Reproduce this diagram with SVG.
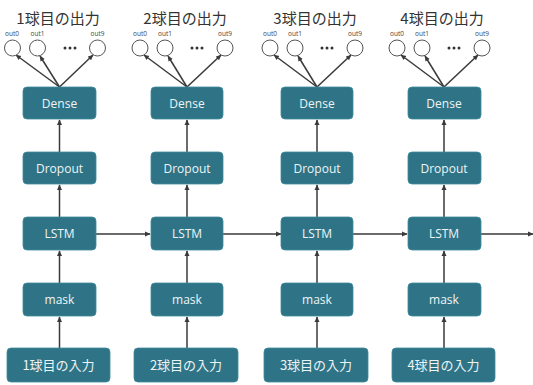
<svg xmlns="http://www.w3.org/2000/svg" width="533" height="385" viewBox="0 0 533 385">
<defs>
<marker id="ah" markerWidth="6" markerHeight="6" refX="5" refY="3" orient="auto" markerUnits="userSpaceOnUse">
<path d="M0,0.5 L5.5,3 L0,5.5 Z" fill="#3a3a3a"/>
</marker>
<style>
.box{fill:#2e7486;stroke:#3f8a9c;stroke-width:0.8}
.bt{fill:#eef4f6;font-family:"Open Sans","Noto Sans CJK JP",sans-serif;font-size:12px;text-anchor:middle}
.it{fill:#eef4f6;font-family:"Noto Sans CJK JP",sans-serif;font-size:13px;text-anchor:middle}
.tt{fill:#333;font-family:"Noto Sans CJK JP",sans-serif;font-size:15px;text-anchor:middle}
.ol{fill:#444;font-family:"Open Sans",sans-serif;font-size:6.5px;text-anchor:middle}
.c{fill:#fff;stroke:#555;stroke-width:1}
.dot{fill:#333}
.ln{stroke:#3a3a3a;stroke-width:1.5;fill:none;marker-end:url(#ah)}
</style>
</defs>
<rect width="533" height="385" fill="#fff"/>

<g id="connectors">
<path class="ln" d="M59.5,87 L16,55"/><path class="ln" d="M59.5,87 L40,56"/><path class="ln" d="M59.5,87 L93,55"/>
<path class="ln" d="M59.5,152 L59.5,120"/><path class="ln" d="M59.5,217 L59.5,185"/><path class="ln" d="M59.5,283 L59.5,251"/><path class="ln" d="M59.5,348 L59.5,317"/>
<path class="ln" d="M187,87 L144,55"/><path class="ln" d="M187,87 L168,56"/><path class="ln" d="M187,87 L221,55"/>
<path class="ln" d="M187,152 L187,120"/><path class="ln" d="M187,217 L187,185"/><path class="ln" d="M187,283 L187,251"/><path class="ln" d="M187,348 L187,317"/>
<path class="ln" d="M317,87 L274,55"/><path class="ln" d="M317,87 L298,56"/><path class="ln" d="M317,87 L351,55"/>
<path class="ln" d="M317,152 L317,120"/><path class="ln" d="M317,217 L317,185"/><path class="ln" d="M317,283 L317,251"/><path class="ln" d="M317,348 L317,317"/>
<path class="ln" d="M444,87 L401,55"/><path class="ln" d="M444,87 L425,56"/><path class="ln" d="M444,87 L478,55"/>
<path class="ln" d="M444,152 L444,120"/><path class="ln" d="M444,217 L444,185"/><path class="ln" d="M444,283 L444,251"/><path class="ln" d="M444,348 L444,317"/>
<path class="ln" d="M96,234 L150,234"/><path class="ln" d="M222,234 L281,234"/><path class="ln" d="M352,234 L407,234"/><path class="ln" d="M481,234 L533,234"/>
</g>

<g id="out1">
<text class="tt" x="58" y="24">1球目の出力</text>
<text class="ol" x="12" y="36">out0</text><text class="ol" x="37.5" y="36">out1</text><text class="ol" x="97.5" y="36">out9</text>
<circle class="c" cx="12.5" cy="48" r="8"/><circle class="c" cx="37.5" cy="48" r="8"/><circle class="c" cx="97.5" cy="48" r="8"/>
<circle class="dot" cx="65" cy="48" r="1.5"/><circle class="dot" cx="70" cy="48" r="1.5"/><circle class="dot" cx="75" cy="48" r="1.5"/>
</g>
<g id="out2">
<text class="tt" x="185" y="24">2球目の出力</text>
<text class="ol" x="140" y="36">out0</text><text class="ol" x="165" y="36">out1</text><text class="ol" x="225" y="36">out9</text>
<circle class="c" cx="140" cy="48" r="8"/><circle class="c" cx="165" cy="48" r="8"/><circle class="c" cx="225" cy="48" r="8"/>
<circle class="dot" cx="192" cy="48" r="1.5"/><circle class="dot" cx="197" cy="48" r="1.5"/><circle class="dot" cx="202" cy="48" r="1.5"/>
</g>
<g id="out3">
<text class="tt" x="315" y="24">3球目の出力</text>
<text class="ol" x="270" y="36">out0</text><text class="ol" x="295" y="36">out1</text><text class="ol" x="355" y="36">out9</text>
<circle class="c" cx="270" cy="48" r="8"/><circle class="c" cx="295" cy="48" r="8"/><circle class="c" cx="355" cy="48" r="8"/>
<circle class="dot" cx="322" cy="48" r="1.5"/><circle class="dot" cx="327" cy="48" r="1.5"/><circle class="dot" cx="332" cy="48" r="1.5"/>
</g>
<g id="out4">
<text class="tt" x="442" y="24">4球目の出力</text>
<text class="ol" x="397" y="36">out0</text><text class="ol" x="422" y="36">out1</text><text class="ol" x="482" y="36">out9</text>
<circle class="c" cx="397" cy="48" r="8"/><circle class="c" cx="422" cy="48" r="8"/><circle class="c" cx="482" cy="48" r="8"/>
<circle class="dot" cx="449" cy="48" r="1.5"/><circle class="dot" cx="454" cy="48" r="1.5"/><circle class="dot" cx="459" cy="48" r="1.5"/>
</g>

<g id="dense1"><rect class="box" x="23" y="87" width="73" height="32" rx="4"/><text class="bt" x="59.5" y="107.5">Dense</text></g>
<g id="dense2"><rect class="box" x="151" y="87" width="72" height="32" rx="4"/><text class="bt" x="187" y="107.5">Dense</text></g>
<g id="dense3"><rect class="box" x="281" y="87" width="72" height="32" rx="4"/><text class="bt" x="317" y="107.5">Dense</text></g>
<g id="dense4"><rect class="box" x="408" y="87" width="73" height="32" rx="4"/><text class="bt" x="444" y="107.5">Dense</text></g>

<g id="dropout1"><rect class="box" x="23" y="152" width="73" height="32" rx="4"/><text class="bt" x="59.5" y="172.5">Dropout</text></g>
<g id="dropout2"><rect class="box" x="151" y="152" width="72" height="32" rx="4"/><text class="bt" x="187" y="172.5">Dropout</text></g>
<g id="dropout3"><rect class="box" x="281" y="152" width="72" height="32" rx="4"/><text class="bt" x="317" y="172.5">Dropout</text></g>
<g id="dropout4"><rect class="box" x="408" y="152" width="73" height="32" rx="4"/><text class="bt" x="444" y="172.5">Dropout</text></g>

<g id="lstm1"><rect class="box" x="23" y="217" width="73" height="33" rx="4"/><text class="bt" x="59.5" y="238">LSTM</text></g>
<g id="lstm2"><rect class="box" x="151" y="217" width="72" height="33" rx="4"/><text class="bt" x="187" y="238">LSTM</text></g>
<g id="lstm3"><rect class="box" x="281" y="217" width="72" height="33" rx="4"/><text class="bt" x="317" y="238">LSTM</text></g>
<g id="lstm4"><rect class="box" x="408" y="217" width="73" height="33" rx="4"/><text class="bt" x="444" y="238">LSTM</text></g>

<g id="mask1"><rect class="box" x="23" y="283" width="73" height="33" rx="4"/><text class="bt" x="59.5" y="304">mask</text></g>
<g id="mask2"><rect class="box" x="151" y="283" width="72" height="33" rx="4"/><text class="bt" x="187" y="304">mask</text></g>
<g id="mask3"><rect class="box" x="281" y="283" width="72" height="33" rx="4"/><text class="bt" x="317" y="304">mask</text></g>
<g id="mask4"><rect class="box" x="408" y="283" width="73" height="33" rx="4"/><text class="bt" x="444" y="304">mask</text></g>

<g id="in1"><rect class="box" x="7" y="348" width="103" height="34" rx="4"/><text class="it" x="58.5" y="370">1球目の入力</text></g>
<g id="in2"><rect class="box" x="134" y="348" width="104" height="34" rx="4"/><text class="it" x="186" y="370">2球目の入力</text></g>
<g id="in3"><rect class="box" x="264" y="348" width="104" height="34" rx="4"/><text class="it" x="316" y="370">3球目の入力</text></g>
<g id="in4"><rect class="box" x="392" y="348" width="103" height="34" rx="4"/><text class="it" x="443.5" y="370">4球目の入力</text></g>
</svg>
